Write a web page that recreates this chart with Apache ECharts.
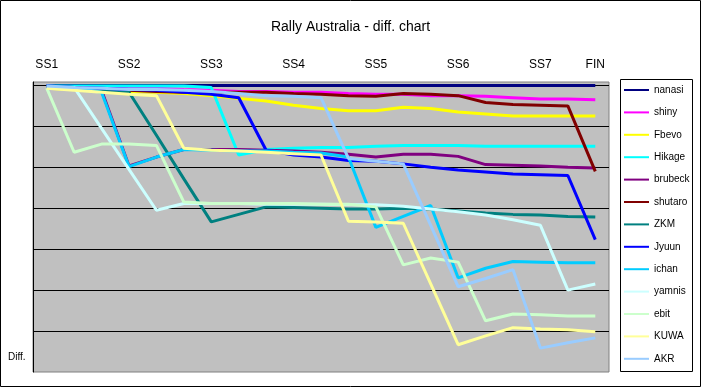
<!DOCTYPE html>
<html>
<head>
<meta charset="utf-8">
<script src="https://cdn.jsdelivr.net/npm/echarts@6/dist/echarts.min.js"></script>
<style>
html,body{margin:0;padding:0;background:#fff;}
#chart{width:701px;height:387px;}
</style>
</head>
<body>
<div id="chart"></div>
<script>
// Stage slots (3 per special stage, FIN last)
const categories = ['SS1','SS1b','SS1c','SS2','SS2b','SS2c','SS3','SS3b','SS3c','SS4','SS4b','SS4c','SS5','SS5b','SS5c','SS6','SS6b','SS6c','SS7','SS7b','FIN'];
const tickLabels = ['SS1','','','SS2','','','SS3','','','SS4','','','SS5','','','SS6','','','SS7','','FIN'];
const gridValues = [0,60,120,180,240,300,360];

const seriesNames = ['nanasi','shiny','Fbevo','Hikage','brubeck','shutaro','ZKM','Jyuun','ichan','yamnis','ebit','KUWA','AKR'];
const seriesColors = ['#000080','#ff00ff','#ffff00','#00ffff','#800080','#800000','#008080','#0000ff','#00ccff','#ccffff','#ccffcc','#ffff99','#99ccff'];

const nanasi  = [0,0,0,0,0,0,0,0,0,0,0,0,0,0,0,0,0,0,0,0,0];
const shiny   = [1,3,3,4,4,6,7,9,9,10,10,12,13,13,15,15,16,18,20,20,21];
const Fbevo   = [4,6,7,9,10,12,15,19,23,29,34,37,37,32,34,39,42,45,45,45,45];
const Hikage  = [1,1,1,1,1,1,3,102,94,92,91,91,89,88,88,88,89,89,89,89,89];
const brubeck = [1,3,7,118,105,94,94,94,95,96,98,101,105,101,101,104,116,117,118,120,121];
const shutaro = [3,4,7,7,9,10,10,10,10,12,13,15,16,12,13,15,25,28,29,30,126];
const ZKM     = [3,4,7,10,73,137,200,189,178,179,180,181,181,180,181,184,187,189,190,192,193];
const Jyuun   = [1,3,4,6,7,10,13,18,95,102,105,110,111,115,120,124,127,130,131,132,226];
const ichan   = [1,3,10,119,105,94,95,96,96,98,99,105,208,192,176,282,268,258,259,260,260];
const yamnis  = [3,3,63,123,183,173,173,173,174,174,174,175,175,177,181,185,190,197,205,300,291];
const ebit    = [4,98,86,86,88,171,173,173,173,173,174,174,178,263,253,259,345,335,336,338,338];
const KUWA    = [4,7,10,13,15,92,95,96,98,100,102,199,200,202,291,380,367,355,357,358,361];
const AKR     = [1,3,4,6,6,7,9,12,15,16,18,107,111,115,205,295,283,270,385,377,370];

const seriesData = [nanasi,shiny,Fbevo,Hikage,brubeck,shutaro,ZKM,Jyuun,ichan,yamnis,ebit,KUWA,AKR];

const FONT = 'Liberation Sans, Arial, sans-serif';
const chart = echarts.init(document.getElementById('chart'), null, {renderer:'canvas'});

const series = seriesNames.map((name, k) => {
  const s = {
    name: name,
    type: 'line',
    data: seriesData[k],
    symbol: 'none',
    showSymbol: false,
    clip: false,
    color: seriesColors[k],
    lineStyle: {color: seriesColors[k], width: 3},
    z: 2
  };
  if (k === 0) {
    s.markLine = {
      silent: true,
      z: 1,
      symbol: 'none',
      label: {show: false},
      lineStyle: {color: '#000', width: 1, type: 'solid'},
      emphasis: {disabled: true},
      data: gridValues.map(v => ({yAxis: v}))
    };
  }
  return s;
});

chart.setOption({
  animation: false,
  backgroundColor: '#ffffff',
  title: {
    text: 'Rally Australia - diff. chart',
    left: 'center',
    top: 15,
    textStyle: {fontFamily: FONT, fontSize: 14, fontWeight: 'normal', color: '#000'}
  },
  legend: {
    data: seriesNames,
    orient: 'vertical',
    left: 623,
    top: 83,
    padding: 0,
    itemWidth: 25,
    itemHeight: 14,
    itemGap: 8.4,
    selectedMode: false,
    itemStyle: {opacity: 0, borderWidth: 0},
    textStyle: {fontFamily: FONT, fontSize: 10, color: '#000', lineHeight: 14}
  },
  grid: {
    left: 33, right: 92, top: 82, bottom: 15,
    show: true,
    backgroundColor: '#c0c0c0',
    borderColor: '#808080',
    borderWidth: 1
  },
  xAxis: {
    type: 'category',
    position: 'top',
    data: categories,
    boundaryGap: true,
    axisLine: {show: false},
    axisTick: {show: false},
    splitLine: {show: false},
    axisLabel: {
      interval: (i) => tickLabels[i] !== '',
      formatter: (v, i) => tickLabels[i],
      margin: 11,
      fontFamily: FONT,
      fontSize: 12,
      color: '#000'
    }
  },
  yAxis: {
    type: 'value',
    inverse: true,
    min: -5,
    max: 420,
    axisLine: {show: true, lineStyle: {color: '#000', width: 1}},
    axisTick: {show: false},
    axisLabel: {show: false},
    splitLine: {show: false}
  },
  graphic: [
    {type: 'rect', shape: {x: 0.5, y: 0.5, width: 700, height: 386}, style: {fill: 'none', stroke: '#000', lineWidth: 1}, silent: true, z: 0},
    {type: 'rect', shape: {x: 620.5, y: 79.5, width: 72, height: 292}, style: {fill: 'none', stroke: '#000', lineWidth: 1}, silent: true, z: 0},
    {type: 'text', left: 8, top: 352, style: {text: 'Diff.', fontFamily: FONT, fontSize: 10, fill: '#000'}, silent: true}
  ],
  series: series
});
</script>
</body>
</html>
